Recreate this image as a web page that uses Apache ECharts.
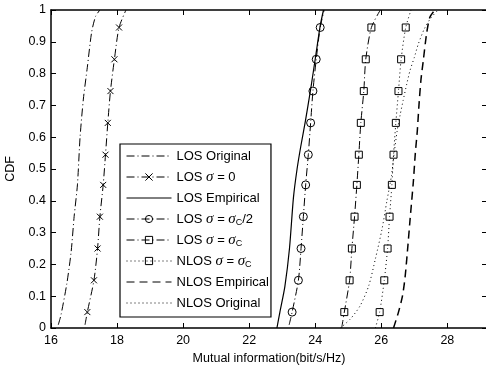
<!DOCTYPE html>
<html>
<head>
<meta charset="utf-8">
<script src="https://cdn.jsdelivr.net/npm/echarts@6/dist/echarts.min.js"></script>
<style>
html, body { margin: 0; padding: 0; background: #fff; }
#main { width: 486px; height: 369px; }
</style>
</head>
<body>
<div id="main"></div>
<script>
// CDF levels where the markers sit
var markCdf = [0.05, 0.15, 0.25, 0.35, 0.45, 0.545, 0.645, 0.745, 0.845, 0.945];

// LOS Original
var losOrigX = [16.22, 16.3, 16.48, 16.61, 16.7, 16.8, 16.88, 16.98, 17.1, 17.23, 17.35, 17.48];
var losOrigY = [0.01, 0.04, 0.14, 0.24, 0.35, 0.45, 0.6, 0.72, 0.82, 0.93, 0.98, 1];

// LOS sigma = 0
var los0X = [17.03, 17.1, 17.3, 17.41, 17.48, 17.58, 17.65, 17.72, 17.8, 17.92, 18.06, 18.27];
var los0Y = [0.01].concat(markCdf, [1]);

// LOS Empirical
var losEmpX = [22.84, 22.93, 23.08, 23.22, 23.34, 23.45, 23.56, 23.7, 23.86, 24.02, 24.15, 24.25];
var losEmpY = [0, 0.05, 0.13, 0.25, 0.41, 0.5, 0.57, 0.65, 0.75, 0.86, 0.95, 1];

// LOS sigma = sigma_C / 2
var losHalfX = [23.21, 23.3, 23.49, 23.57, 23.64, 23.71, 23.79, 23.86, 23.93, 24.03, 24.15, 24.27];
var losHalfY = [0.01].concat(markCdf, [1]);

// LOS sigma = sigma_C
var losFullX = [24.8, 24.88, 25.04, 25.11, 25.19, 25.26, 25.32, 25.38, 25.47, 25.53, 25.7, 25.97];
var losFullY = [0].concat(markCdf, [1]);

// NLOS sigma = sigma_C
var nlosFullX = [25.82, 25.95, 26.09, 26.19, 26.25, 26.32, 26.37, 26.44, 26.52, 26.6, 26.74, 26.9];
var nlosFullY = [0].concat(markCdf, [1]);

// NLOS Empirical
var nlosEmpX = [26.37, 26.52, 26.64, 26.72, 26.79, 26.87, 26.97, 27.03, 27.09, 27.14, 27.2, 27.27, 27.37, 27.47, 27.62];
var nlosEmpY = [0, 0.05, 0.1, 0.16, 0.24, 0.34, 0.46, 0.55, 0.62, 0.7, 0.78, 0.84, 0.925, 0.977, 1];

// NLOS Original
var nlosOrigX = [24.76, 25.06, 25.36, 25.62, 25.82, 26.02, 26.17, 26.31, 26.39, 26.48, 26.57, 26.66, 26.77, 26.87, 27.0, 27.12, 27.3, 27.5, 27.72];
var nlosOrigY = [0, 0.028, 0.07, 0.133, 0.217, 0.31, 0.4, 0.48, 0.55, 0.62, 0.67, 0.715, 0.767, 0.81, 0.851, 0.893, 0.94, 0.975, 1];

var font = 'Liberation Sans';
var dashDot = [8, 3, 1, 3];

// end points get no marker, inner points do
function pts(xs, ys, marked) {
    var out = [];
    for (var i = 0; i < xs.length; i++) {
        var p = { value: [xs[i], ys[i]] };
        if (!marked || i === 0 || i === xs.length - 1) p.symbol = 'none';
        out.push(p);
    }
    return out;
}

function line(name, xs, ys, type, width, symbol, size) {
    return {
        name: name,
        type: 'line',
        data: pts(xs, ys, !!symbol),
        symbol: symbol || 'none',
        symbolSize: size || 0,
        showAllSymbol: true,
        smooth: 0.25,
        color: '#000',
        lineStyle: { color: '#000', width: width, type: type },
        itemStyle: { color: 'transparent', borderColor: '#000', borderWidth: 1 },
        emphasis: { disabled: true }
    };
}

var crossPath = 'path://M0,0L10,10M10,0L0,10';

var labels = {
    'LOS Original': 'LOS Original',
    'LOS σ = 0': 'LOS {s|σ} = 0',
    'LOS Empirical': 'LOS Empirical',
    'LOS σ = σc/2': 'LOS {s|σ} = {s|σ}{c|C}/2',
    'LOS σ = σc': 'LOS {s|σ} = {s|σ}{c|C}',
    'NLOS σ = σc': 'NLOS {s|σ} = {s|σ}{c|C}',
    'NLOS Empirical': 'NLOS Empirical',
    'NLOS Original': 'NLOS Original'
};

var hidden = { color: 'transparent', borderWidth: 0 };

var myChart = echarts.init(document.getElementById('main'));
myChart.setOption({
    animation: false,
    grid: { left: 51, top: 10, width: 436, height: 318, outerBoundsMode: 'none', containLabel: false },
    xAxis: [{
        type: 'value', min: 16, max: 29.2, interval: 2,
        name: 'Mutual information(bit/s/Hz)', nameLocation: 'middle', nameGap: 23,
        nameTextStyle: { color: '#000', fontFamily: font, fontSize: 12.5 },
        axisLine: { onZero: false, lineStyle: { color: '#000', width: 1.5 } },
        axisTick: { inside: true, length: 5, lineStyle: { color: '#000' } },
        axisLabel: { color: '#000', fontFamily: font, fontSize: 12.5, margin: 6, showMaxLabel: false },
        splitLine: { show: false }
    }, {
        type: 'value', position: 'top', min: 16, max: 29.2, interval: 2,
        axisLine: { onZero: false, lineStyle: { color: '#000', width: 1.5 } },
        axisTick: { inside: true, length: 5, lineStyle: { color: '#000' } },
        axisLabel: { show: false },
        splitLine: { show: false }
    }],
    yAxis: [{
        type: 'value', min: 0, max: 1, interval: 0.1,
        name: 'CDF', nameLocation: 'middle', nameGap: 34,
        nameTextStyle: { color: '#000', fontFamily: font, fontSize: 12.5 },
        axisLine: { onZero: false, lineStyle: { color: '#000', width: 1.5 } },
        axisTick: { inside: true, length: 5, lineStyle: { color: '#000' } },
        axisLabel: { color: '#000', fontFamily: font, fontSize: 12.5, margin: 5 },
        splitLine: { show: false }
    }, {
        type: 'value', position: 'right', min: 0, max: 1, interval: 0.1,
        axisLine: { onZero: false, lineStyle: { color: '#000', width: 1.5 } },
        axisTick: { inside: true, length: 5, lineStyle: { color: '#000' } },
        axisLabel: { show: false },
        splitLine: { show: false }
    }],
    legend: {
        orient: 'vertical', left: 120, top: 144,
        padding: [4, 2, 6, 6],
        itemWidth: 45, itemHeight: 9, itemGap: 5,
        borderColor: '#000', borderWidth: 1.2, backgroundColor: '#fff',
        selectedMode: false,
        lineStyle: { width: 1 },
        itemStyle: { borderWidth: 1 },
        textStyle: {
            color: '#000', fontFamily: font, fontSize: 13, lineHeight: 16,
            rich: {
                s: { fontFamily: 'Liberation Serif', fontStyle: 'italic', fontSize: 15, lineHeight: 16 },
                c: { fontFamily: font, fontSize: 9, lineHeight: 10, verticalAlign: 'bottom' }
            }
        },
        formatter: function (name) { return labels[name]; },
        data: [
            { name: 'LOS Original', itemStyle: hidden },
            { name: 'LOS σ = 0' },
            { name: 'LOS Empirical', itemStyle: hidden },
            { name: 'LOS σ = σc/2' },
            { name: 'LOS σ = σc' },
            { name: 'NLOS σ = σc' },
            { name: 'NLOS Empirical', itemStyle: hidden },
            { name: 'NLOS Original', itemStyle: hidden }
        ]
    },
    series: [
        line('LOS Original', losOrigX, losOrigY, dashDot, 1),
        line('LOS σ = 0', los0X, los0Y, dashDot, 1, crossPath, 6),
        line('LOS Empirical', losEmpX, losEmpY, 'solid', 1.2),
        line('LOS σ = σc/2', losHalfX, losHalfY, dashDot, 1, 'circle', 8),
        line('LOS σ = σc', losFullX, losFullY, dashDot, 1, 'rect', 7),
        line('NLOS σ = σc', nlosFullX, nlosFullY, [1, 3], 1, 'rect', 7),
        line('NLOS Empirical', nlosEmpX, nlosEmpY, [8, 5], 1.5),
        line('NLOS Original', nlosOrigX, nlosOrigY, [1, 3], 1)
    ]
});
window.onresize = myChart.resize;
</script>
</body>
</html>
